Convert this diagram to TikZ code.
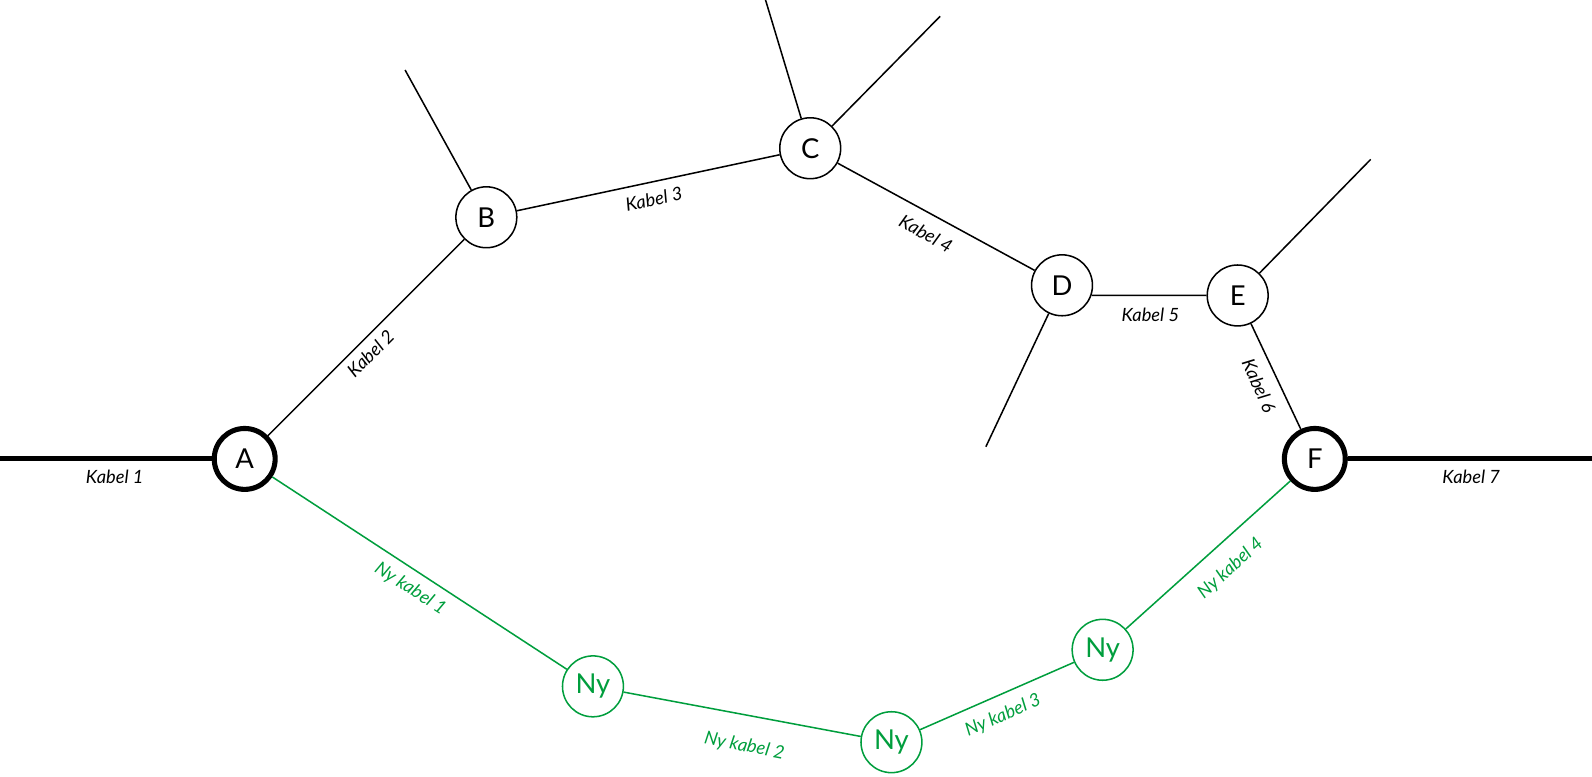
\documentclass[tikz,border=0pt]{standalone}
\usepackage{fontspec}
\setmainfont{Lato}
\definecolor{nygreen}{RGB}{0,158,61}
\tikzset{
  junc/.style={circle, draw=black, line width=1.5pt, minimum size=60pt, inner sep=0pt, fill=white, font=\fontsize{27}{31}\selectfont},
  bigjunc/.style={junc, line width=5pt, minimum size=60pt},
  nyjunc/.style={junc, draw=nygreen, text=nygreen},
  cable/.style={line width=1.5pt, black},
  thickcable/.style={line width=5pt, black},
  nycable/.style={line width=1.5pt, nygreen},
  lab/.style={font=\fontsize{18}{21}\selectfont\itshape, inner sep=0pt},
  nylab/.style={lab, text=nygreen},
}
\begin{document}
\begin{tikzpicture}[x=1pt,y=-1pt]
\useasboundingbox (0,0) rectangle (1568,765);
% nodes
\node[bigjunc] (A) at (241,452) {A};
\node[junc] (B) at (479,214) {B};
\node[junc] (C) at (798,146) {C};
\node[junc] (D) at (1046,281) {D};
\node[junc] (E) at (1219,291) {E};
\node[bigjunc] (F) at (1295,452) {F};
\node[nyjunc] (N1) at (584,676) {Ny};
\node[nyjunc] (N2) at (878,731) {Ny};
\node[nyjunc] (N3) at (1086,640) {Ny};
% free ends
\coordinate (L) at (0,452);
\coordinate (R) at (1568,452);
\coordinate (Bs) at (399,69);
\coordinate (Cs1) at (754,0);
\coordinate (Cs2) at (926,16);
\coordinate (Ds) at (971,440);
\coordinate (Es) at (1350,157);
% connectors
\draw[thickcable] (L) -- (A);
\draw[thickcable] (F) -- (R);
\draw[cable] (A) -- (B);
\draw[cable] (B) -- (C);
\draw[cable] (C) -- (D);
\draw[cable] (D.-19) -- (E.west);
\draw[cable] (E) -- (F);
\draw[cable] (B) -- (Bs);
\draw[cable] (C) -- (Cs1);
\draw[cable] (C) -- (Cs2);
\draw[cable] (D) -- (Ds);
\draw[cable] (E) -- (Es);
\draw[nycable] (A) -- (N1);
\draw[nycable] (N1) -- (N2);
\draw[nycable] (N2) -- (N3);
\draw[nycable] (N3) -- (F);
% labels
\node[lab] (l1) at (113,470) {Kabel 1};
\node[lab, rotate=45] (l2) at (365,348) {Kabel 2};
\node[lab, rotate=12] (l3) at (644,196) {Kabel 3};
\node[lab, rotate=-29] (l4) at (912,230) {Kabel 4};
\node[lab] (l5) at (1133,310) {Kabel 5};
\node[lab, rotate=-66] (l6) at (1240,380) {Kabel 6};
\node[lab] (l7) at (1449,470) {Kabel 7};
\node[nylab, rotate=-33] (n1) at (404,580) {Ny kabel 1};
\node[nylab, rotate=-11] (n2) at (733,735) {Ny kabel 2};
\node[nylab, rotate=24] (n3) at (988,705) {Ny kabel 3};
\node[nylab, rotate=42] (n4) at (1212,560) {Ny kabel 4};
\end{tikzpicture}
\end{document}
